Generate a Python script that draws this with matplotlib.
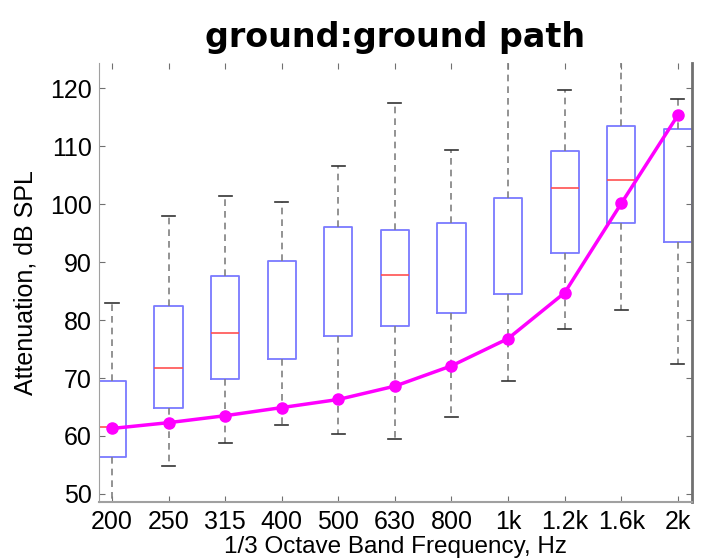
import numpy as np
import matplotlib.pyplot as plt

# 1/3 octave bands and box statistics (dB SPL)
bands = ["200", "250", "315", "400", "500", "630", "800", "1k", "1.2k", "1.6k", "2k"]
q1 = [56.4, 64.9, 69.8, 73.3, 77.2, 79.0, 81.2, 84.5, 91.6, 96.7, 93.4]
q3 = [69.5, 82.5, 87.6, 90.1, 96.0, 95.5, 96.8, 101.1, 109.2, 113.5, 112.9]
medians = [61.6, 71.8, 77.7, np.nan, np.nan, 87.8, np.nan, np.nan, 102.8, 104.1, np.nan]
whis_lo = [47.0, 54.9, 58.8, 61.9, 60.3, 59.4, 63.3, 69.4, 78.4, 81.8, 72.5]
whis_hi = [83.0, 98.0, 101.4, 100.4, 106.6, 117.5, 109.4, 126.0, 119.7, 126.0, 118.1]
predicted = [61.3, 62.3, 63.5, 64.9, 66.3, 68.6, 72.1, 76.8, 84.7, 100.1, 115.3]

fig = plt.figure(figsize=(7.02, 5.59), dpi=100)
ax = fig.add_axes([0.141, 0.102, 0.8447, 0.785])

pos = np.arange(1, len(bands) + 1)
stats = []
for i in range(len(bands)):
    stats.append(dict(med=medians[i], q1=q1[i], q3=q3[i],
                      whislo=whis_lo[i], whishi=whis_hi[i], fliers=[]))

ax.bxp(stats, positions=pos, widths=0.5, capwidths=0.23, showfliers=False,
       boxprops=dict(color="#7a7aff", lw=1.3),
       whiskerprops=dict(color="#808080", lw=1.2, ls=(0, (4, 3))),
       capprops=dict(color="#333333", lw=1.2),
       medianprops=dict(color="#ff5050", lw=1.2))

ax.plot(pos, predicted, color="#ff00ff", lw=2.5, marker="o", ms=8, zorder=5)

ax.set_xlim(0.77, 11.25)
ax.set_ylim(48.62, 124.3)
ax.set_yticks(np.arange(50, 121, 10))
ax.set_xticks(pos)
ax.set_xticklabels(bands)

font = "Liberation Sans"
for lab in ax.get_xticklabels() + ax.get_yticklabels():
    lab.set_fontfamily(font)
    lab.set_fontsize(18)

ax.tick_params(direction="in", length=4, color="#707070", top=True, right=True)
ax.tick_params(axis="x", pad=6)
ax.tick_params(axis="y", pad=5)

ax.spines["top"].set_visible(False)
ax.spines["left"].set_color("#a0a0a0")
ax.spines["bottom"].set_color("#a0a0a0")
ax.spines["bottom"].set_linewidth(1.5)
ax.spines["right"].set_color("#707070")
ax.spines["right"].set_linewidth(2)

ax.set_xlabel("1/3 Octave Band Frequency, Hz", family=font, fontsize=17.5, labelpad=1)
ax.set_ylabel("Attenuation, dB SPL", family=font, fontsize=18, labelpad=9)
ax.set_title("ground:ground path", family="DejaVu Sans", fontweight="bold",
             fontsize=24, pad=12)

fig.savefig("out.png", dpi=100)
